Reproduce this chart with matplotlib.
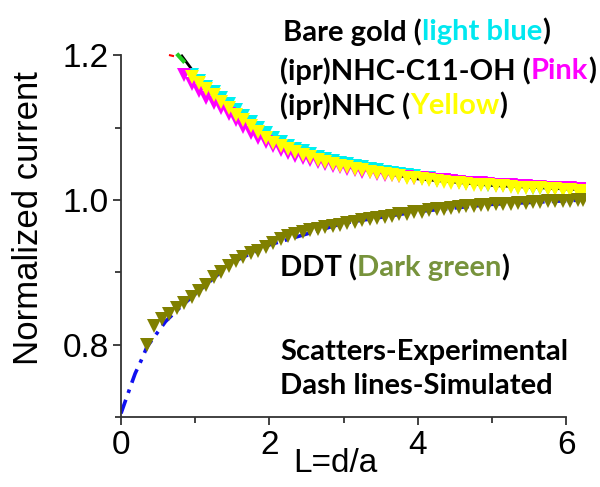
import matplotlib
matplotlib.use("Agg")
import matplotlib.pyplot as plt
from matplotlib.ticker import MultipleLocator

# ---------------- data ----------------
ddt_x = [0.35, 0.45, 0.55, 0.65, 0.75, 0.85, 0.95, 1.05, 1.15, 1.25, 1.35, 1.45, 1.55, 1.65,
         1.75, 1.85, 1.95, 2.05, 2.15, 2.25, 2.35, 2.45, 2.55, 2.65, 2.75, 2.85, 2.95, 3.05,
         3.15, 3.25, 3.35, 3.45, 3.55, 3.65, 3.75, 3.85, 3.95, 4.05, 4.15, 4.25, 4.35, 4.45,
         4.55, 4.65, 4.75, 4.85, 4.95, 5.05, 5.15, 5.25, 5.35, 5.45, 5.55, 5.65, 5.75, 5.85,
         5.95, 6.05, 6.15, 6.22]
ddt_y = [0.800, 0.826, 0.836, 0.842, 0.850, 0.857, 0.866, 0.874, 0.883, 0.893, 0.901, 0.909,
         0.916, 0.921, 0.926, 0.930, 0.935, 0.940, 0.946, 0.950, 0.953, 0.956, 0.958, 0.960,
         0.962, 0.964, 0.966, 0.968, 0.970, 0.972, 0.974, 0.975, 0.977, 0.978, 0.980, 0.981,
         0.983, 0.984, 0.986, 0.987, 0.988, 0.989, 0.990, 0.991, 0.992, 0.993, 0.993, 0.994,
         0.995, 0.995, 0.996, 0.996, 0.997, 0.997, 0.998, 0.998, 0.999, 0.999, 1.000, 1.000]

pos_x = [0.95, 1.05, 1.15, 1.25, 1.35, 1.45, 1.55, 1.65, 1.75, 1.85, 1.95, 2.05, 2.15, 2.25,
         2.35, 2.45, 2.55, 2.65, 2.75, 2.85, 2.95, 3.05, 3.15, 3.25, 3.35, 3.45, 3.55, 3.65,
         3.75, 3.85, 3.95, 4.05, 4.15, 4.25, 4.35, 4.45, 4.55, 4.65, 4.75, 4.85, 4.95, 5.05,
         5.15, 5.25, 5.35, 5.45, 5.55, 5.65, 5.75, 5.85, 5.95, 6.05, 6.15, 6.22]
bare_y = [1.172, 1.164, 1.156, 1.149, 1.141, 1.133, 1.124, 1.116, 1.108, 1.100, 1.092, 1.085,
          1.080, 1.075, 1.071, 1.067, 1.063, 1.060, 1.057, 1.054, 1.051, 1.049, 1.047, 1.045,
          1.043, 1.041, 1.039, 1.037, 1.036, 1.034, 1.033, 1.031, 1.030, 1.028, 1.027, 1.026,
          1.025, 1.024, 1.023, 1.022, 1.021, 1.020, 1.020, 1.019, 1.018, 1.018, 1.017, 1.017,
          1.016, 1.016, 1.015, 1.015, 1.014, 1.014]
nhc_y = [1.170, 1.162, 1.153, 1.145, 1.136, 1.127, 1.118, 1.110, 1.102, 1.094, 1.086, 1.079,
         1.074, 1.070, 1.066, 1.062, 1.059, 1.055, 1.052, 1.050, 1.047, 1.045, 1.043, 1.041,
         1.039, 1.037, 1.036, 1.034, 1.033, 1.031, 1.030, 1.029, 1.027, 1.026, 1.025, 1.024,
         1.023, 1.022, 1.021, 1.021, 1.020, 1.019, 1.019, 1.018, 1.017, 1.017, 1.016, 1.016,
         1.015, 1.015, 1.014, 1.014, 1.013, 1.013]

oh_x = [0.85] + pos_x
oh_y = [1.172, 1.160, 1.150, 1.141, 1.134, 1.127, 1.119, 1.110, 1.101, 1.093, 1.086, 1.080,
        1.074, 1.069, 1.065, 1.061, 1.058, 1.055, 1.052, 1.049, 1.047, 1.045, 1.043, 1.041,
        1.039, 1.038, 1.036, 1.035, 1.034, 1.033, 1.032, 1.031, 1.030, 1.029, 1.028, 1.027,
        1.026, 1.025, 1.024, 1.023, 1.023, 1.022, 1.021, 1.021, 1.020, 1.019, 1.019, 1.018,
        1.018, 1.017, 1.017, 1.016, 1.016, 1.015, 1.015]

sim_pos_x = [0.82, 1.0, 1.25, 1.5, 2.0, 2.5, 3.0, 4.0, 5.0, 6.22]
sim_pos_y = [1.199, 1.174, 1.145, 1.122, 1.084, 1.062, 1.047, 1.029, 1.020, 1.014]
sim_neg_x = [0.0, 0.12, 0.19, 0.28, 0.35, 0.6, 0.8, 1.0, 1.5, 2.0, 3.0, 4.0, 5.0, 6.22]
sim_neg_y = [0.705, 0.740, 0.760, 0.780, 0.797, 0.832, 0.852, 0.870, 0.914, 0.938, 0.968,
             0.984, 0.994, 1.000]
sim_green_x = [0.77, 0.84]
sim_green_y = [1.200, 1.192]
sim_red_x = [0.66, 0.70]
sim_red_y = [1.200, 1.199]

xticks = [0, 2, 4, 6]
yticks = [0.8, 1.0, 1.2]

# ---------------- figure ----------------
W, H = 600, 487
fig = plt.figure(figsize=(W / 100, H / 100), dpi=100)
left, bottom = 121 / W, 1 - 417 / H
ax = fig.add_axes([left, bottom, (585 - 121) / W, (417 - 48) / H])
ax.set_xlim(0, 6.25)
ax.set_ylim(0.7, 1.21)

tick_font = "Liberation Sans"
ms = 9.5
ax.plot(sim_neg_x, sim_neg_y, color="#1010f0", lw=2.6, ls=(0, (4, 2, 1, 2)), zorder=1)
ax.plot(sim_pos_x, sim_pos_y, color="black", lw=2.0, zorder=1)
ax.plot(sim_green_x, sim_green_y, color="#22cc22", lw=3, zorder=1)
ax.plot(sim_red_x, sim_red_y, color="red", lw=1.5, zorder=1)

ax.plot(pos_x, bare_y, "v", color="#00f0f0", ms=ms, mew=0, zorder=2)
ax.plot(oh_x, oh_y, "v", color="#ff00ff", ms=ms, mew=0, zorder=3)
ax.plot(pos_x, nhc_y, "v", color="#ffff00", ms=ms, mew=0, zorder=4)
ax.plot(ddt_x, ddt_y, "v", color="#808000", ms=ms, mew=0, zorder=4)

for s in ["top", "right"]:
    ax.spines[s].set_visible(False)
for s in ["left", "bottom"]:
    ax.spines[s].set_linewidth(1.3)
    ax.spines[s].set_color("#333333")
ax.spines["bottom"].set_bounds(0, 6)
ax.spines["left"].set_bounds(0.7, 1.2)

ax.set_xticks(xticks)
ax.set_yticks(yticks)
ax.set_xticklabels([str(v) for v in xticks])
ax.set_yticklabels([f"{v:.1f}" for v in yticks])
ax.xaxis.set_minor_locator(MultipleLocator(1))
ax.yaxis.set_minor_locator(MultipleLocator(0.1))
ax.tick_params(which="major", length=6, width=1.3, color="#333333", direction="out",
               labelsize=24, pad=3)
ax.tick_params(which="minor", length=4, width=1.3, color="#333333", direction="out")
for lab in ax.get_xticklabels() + ax.get_yticklabels():
    lab.set_fontfamily(tick_font)

ax.set_xlabel("L=d/a", fontsize=24, fontfamily=tick_font)
ax.xaxis.set_label_coords((335 - 121) / (585 - 121), -0.085)
ax.set_ylabel("Normalized current", fontsize=25, fontfamily=tick_font)
ax.yaxis.set_label_coords(-0.163, (417 - 218) / (417 - 48))

# ---------------- coloured annotation text ----------------
fig.canvas.draw()
renderer = fig.canvas.get_renderer()
txt_font = "Lato"
txt_size = 21


def colored_line(xpix, ycenter_pix, parts):
    x = xpix
    for s, c in parts:
        t = fig.text(x / W, 1 - ycenter_pix / H, s, color=c, fontsize=txt_size,
                     fontweight="bold", fontfamily=txt_font, va="center", ha="left")
        bb = t.get_window_extent(renderer)
        x += bb.width


colored_line(283, 32, [("Bare gold (", "black"), ("light blue", "#00e8f0"), (")", "black")])
colored_line(280, 71, [("(ipr)NHC-C11-OH (", "black"), ("Pink", "#ff00ff"), (")", "black")])
colored_line(280, 106, [("(ipr)NHC (", "black"), ("Yellow", "#ffff00"), (")", "black")])
colored_line(280, 268, [("DDT (", "black"), ("Dark green", "#77933c"), (")", "black")])
colored_line(280, 352, [("Scatters-Experimental", "black")])
colored_line(280, 386, [("Dash lines-Simulated", "black")])

fig.savefig("out.png", dpi=100)
